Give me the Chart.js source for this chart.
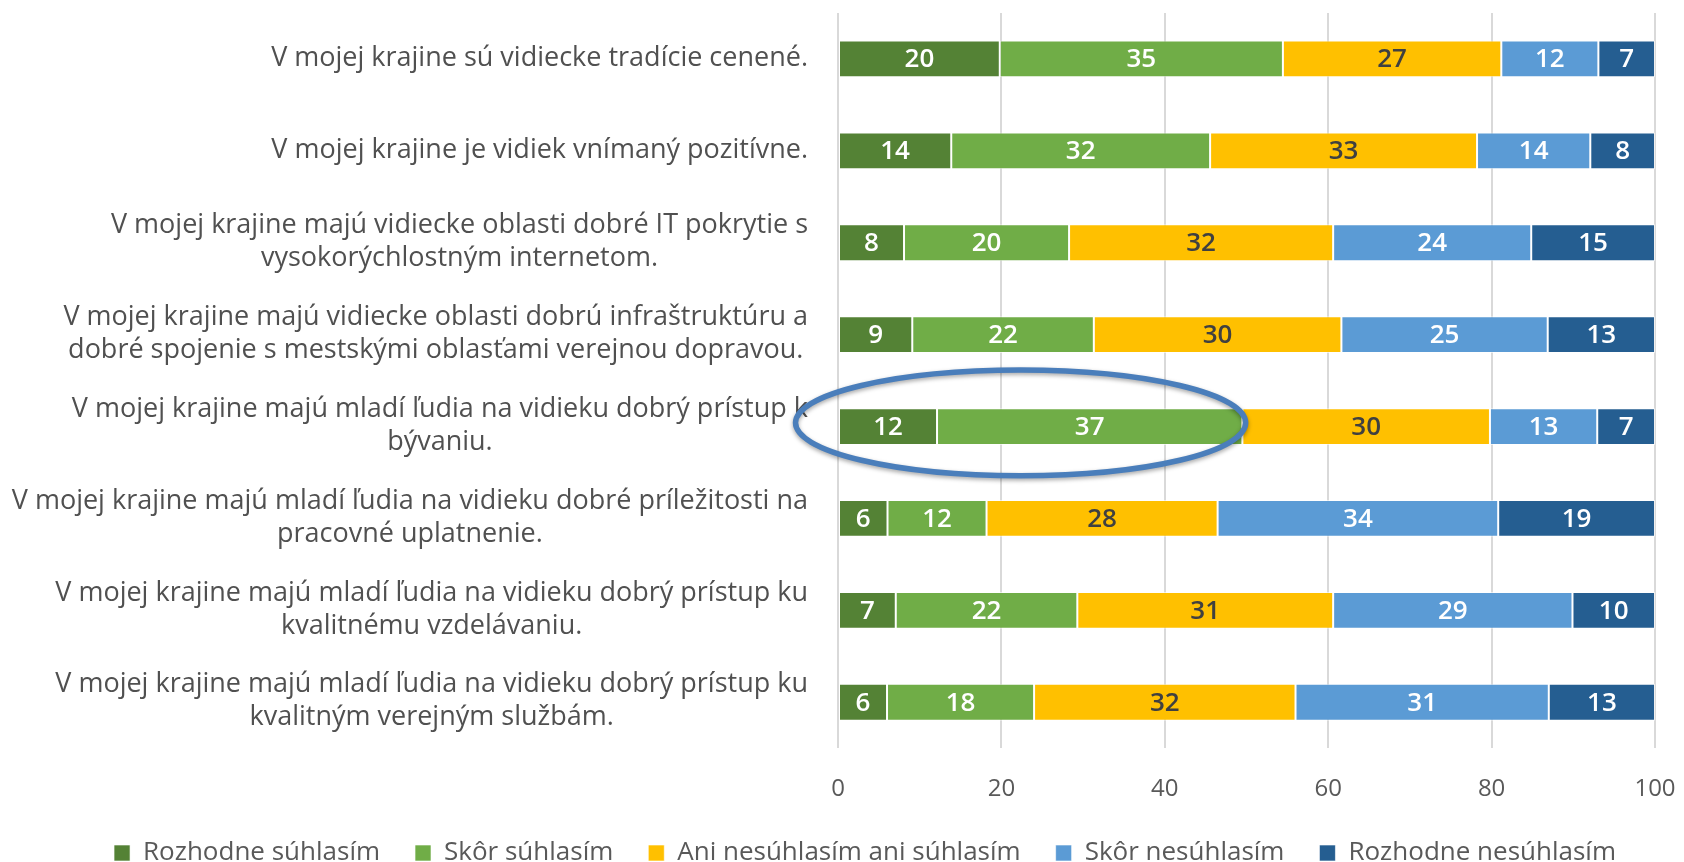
<!DOCTYPE html>
<html>
<head>
<meta charset="utf-8">
<script src="https://cdn.jsdelivr.net/npm/chart.js@4.4.1/dist/chart.umd.min.js"></script>
<style>
  body { margin: 0; background: #fff; }
  #wrap { width: 1684px; height: 862px; }
</style>
</head>
<body>
<div id="wrap"><canvas id="chart" width="1684" height="862"></canvas></div>
<script>
// Statements, top to bottom (each entry = lines of the label)
const statements = [
    ["V mojej krajine sú vidiecke tradície cenené."],
    ["V mojej krajine je vidiek vnímaný pozitívne."],
    ["V mojej krajine majú vidiecke oblasti dobré IT pokrytie s", "vysokorýchlostným internetom."],
    ["V mojej krajine majú vidiecke oblasti dobrú infraštruktúru a", "dobré spojenie s mestskými oblasťami verejnou dopravou."],
    ["V mojej krajine majú mladí ľudia na vidieku dobrý prístup k", "bývaniu."],
    ["V mojej krajine majú mladí ľudia na vidieku dobré príležitosti na", "pracovné uplatnenie."],
    ["V mojej krajine majú mladí ľudia na vidieku dobrý prístup ku", "kvalitnému vzdelávaniu."],
    ["V mojej krajine majú mladí ľudia na vidieku dobrý prístup ku", "kvalitným verejným službám."]
];

// Answers (legend)
const answers = ["Rozhodne súhlasím", "Skôr súhlasím", "Ani nesúhlasím ani súhlasím", "Skôr nesúhlasím", "Rozhodne nesúhlasím"];

// Counts per answer, one value per statement
const rozhodneSuhlasim   = [20, 14, 8, 9, 12, 6, 7, 6];
const skorSuhlasim       = [35, 32, 20, 22, 37, 12, 22, 18];
const aniAni             = [27, 33, 32, 30, 30, 28, 31, 32];
const skorNesuhlasim     = [12, 14, 24, 25, 13, 34, 29, 31];
const rozhodneNesuhlasim = [7, 8, 15, 13, 7, 19, 10, 13];

// x axis ticks
const xTicks = [0, 20, 40, 60, 80, 100];

const series = [rozhodneSuhlasim, skorSuhlasim, aniAni, skorNesuhlasim, rozhodneNesuhlasim];
const colors = ['#548235', '#70ad47', '#ffc000', '#5b9bd5', '#255e91'];
const labelColors = ['#ffffff', '#ffffff', '#404040', '#ffffff', '#ffffff'];

// 100% stacked: each row is scaled to its own total
let totals = statements.map((s, i) => series.reduce((a, arr) => a + arr[i], 0));

let datasets = series.map((arr, k) => ({
    label: answers[k],
    data: arr.map((v, i) => v / totals[i] * 100),
    raw: arr,
    backgroundColor: colors[k],
    borderColor: 'rgba(255,255,255,0.6)',
    borderWidth: 1,
    borderSkipped: false,
    categoryPercentage: 1,
    barPercentage: 0.4
}));

const FONT = '"Open Sans", "DejaVu Sans", sans-serif';

/* ------------------------------ Plugins ------------------------------ */

// Value labels in the middle of each segment
const valueLabels = {
    id: 'valueLabels',
    afterDatasetsDraw(chart) {
        const ctx = chart.ctx;
        ctx.save();
        ctx.font = '600 26px ' + FONT;
        ctx.textAlign = 'center';
        ctx.textBaseline = 'middle';
        chart.data.datasets.forEach((ds, k) => {
            const meta = chart.getDatasetMeta(k);
            meta.data.forEach((bar, i) => {
                ctx.fillStyle = labelColors[k];
                ctx.fillText(String(ds.raw[i]), (bar.x + bar.base) / 2, bar.y + 1);
            });
        });
        ctx.restore();
    }
};

// Category labels: block right aligned, lines centered within the block
const categoryLabels = {
    id: 'categoryLabels',
    afterDraw(chart) {
        const ctx = chart.ctx;
        const yScale = chart.scales.y;
        const right = chart.chartArea.left - 30;
        const lh = 33;
        ctx.save();
        ctx.font = '27px ' + FONT;
        ctx.fillStyle = '#505050';
        ctx.textAlign = 'center';
        ctx.textBaseline = 'middle';
        statements.forEach((lines, i) => {
            const y = yScale.getPixelForTick(i);
            let w = 0;
            for (const l of lines) w = Math.max(w, ctx.measureText(l).width);
            const cx = right - w / 2;
            const top = y - (lines.length - 1) * lh / 2 - 1;
            lines.forEach((l, j) => ctx.fillText(l, cx, top + j * lh));
        });
        ctx.restore();
    }
};

// Highlight ellipse around the "bývaniu" row (given in axis units)
const highlight = { xFrom: -5.2, xTo: 49.9, row: 3.96, halfRows: 0.575 };

const ellipsePlugin = {
    id: 'ellipse',
    afterDraw(chart) {
        const ctx = chart.ctx;
        const xs = chart.scales.x, ys = chart.scales.y;
        const x1 = xs.getPixelForValue(highlight.xFrom);
        const x2 = xs.getPixelForValue(highlight.xTo);
        const yc = ys.getPixelForValue(highlight.row);
        const step = ys.getPixelForValue(1) - ys.getPixelForValue(0);
        ctx.save();
        ctx.shadowColor = 'rgba(0,0,0,0.35)';
        ctx.shadowBlur = 4;
        ctx.shadowOffsetY = 2;
        ctx.strokeStyle = '#4a7ebb';
        ctx.lineWidth = 5.5;
        ctx.beginPath();
        ctx.ellipse((x1 + x2) / 2, yc, (x2 - x1) / 2, Math.abs(step) * highlight.halfRows, 0, 0, Math.PI * 2);
        ctx.stroke();
        ctx.restore();
    }
};

/* ------------------------------ Chart ------------------------------ */
new Chart(document.getElementById('chart').getContext('2d'), {
    type: 'bar',
    data: {
        labels: statements.map(s => s.join(' ')),
        datasets: datasets
    },
    options: {
        indexAxis: 'y',
        responsive: false,
        animation: false,
        layout: {
            padding: { left: 75, right: 29, top: 13, bottom: -14 }
        },
        scales: {
            x: {
                stacked: true,
                min: 0,
                max: 100,
                border: { display: false },
                // invisible tick marks push the labels down without widening the axis
                grid: { color: '#d9d9d9', lineWidth: 2, drawTicks: true, tickLength: 26, tickColor: 'rgba(0,0,0,0)' },
                afterBuildTicks: (scale) => { scale.ticks = xTicks.map(v => ({ value: v })); },
                ticks: {
                    padding: 1,
                    color: '#595959',
                    font: { family: FONT, size: 24 }
                }
            },
            y: {
                stacked: true,
                border: { display: false },
                grid: { display: false },
                ticks: { display: false },
                afterFit: (scale) => { scale.width = 763; }
            }
        },
        plugins: {
            legend: {
                position: 'bottom',
                labels: {
                    boxWidth: 16,
                    boxHeight: 16,
                    padding: 35,
                    color: '#595959',
                    font: { family: FONT, size: 26 }
                }
            },
            tooltip: { enabled: false }
        }
    },
    plugins: [valueLabels, categoryLabels, ellipsePlugin]
});
</script>
</body>
</html>
